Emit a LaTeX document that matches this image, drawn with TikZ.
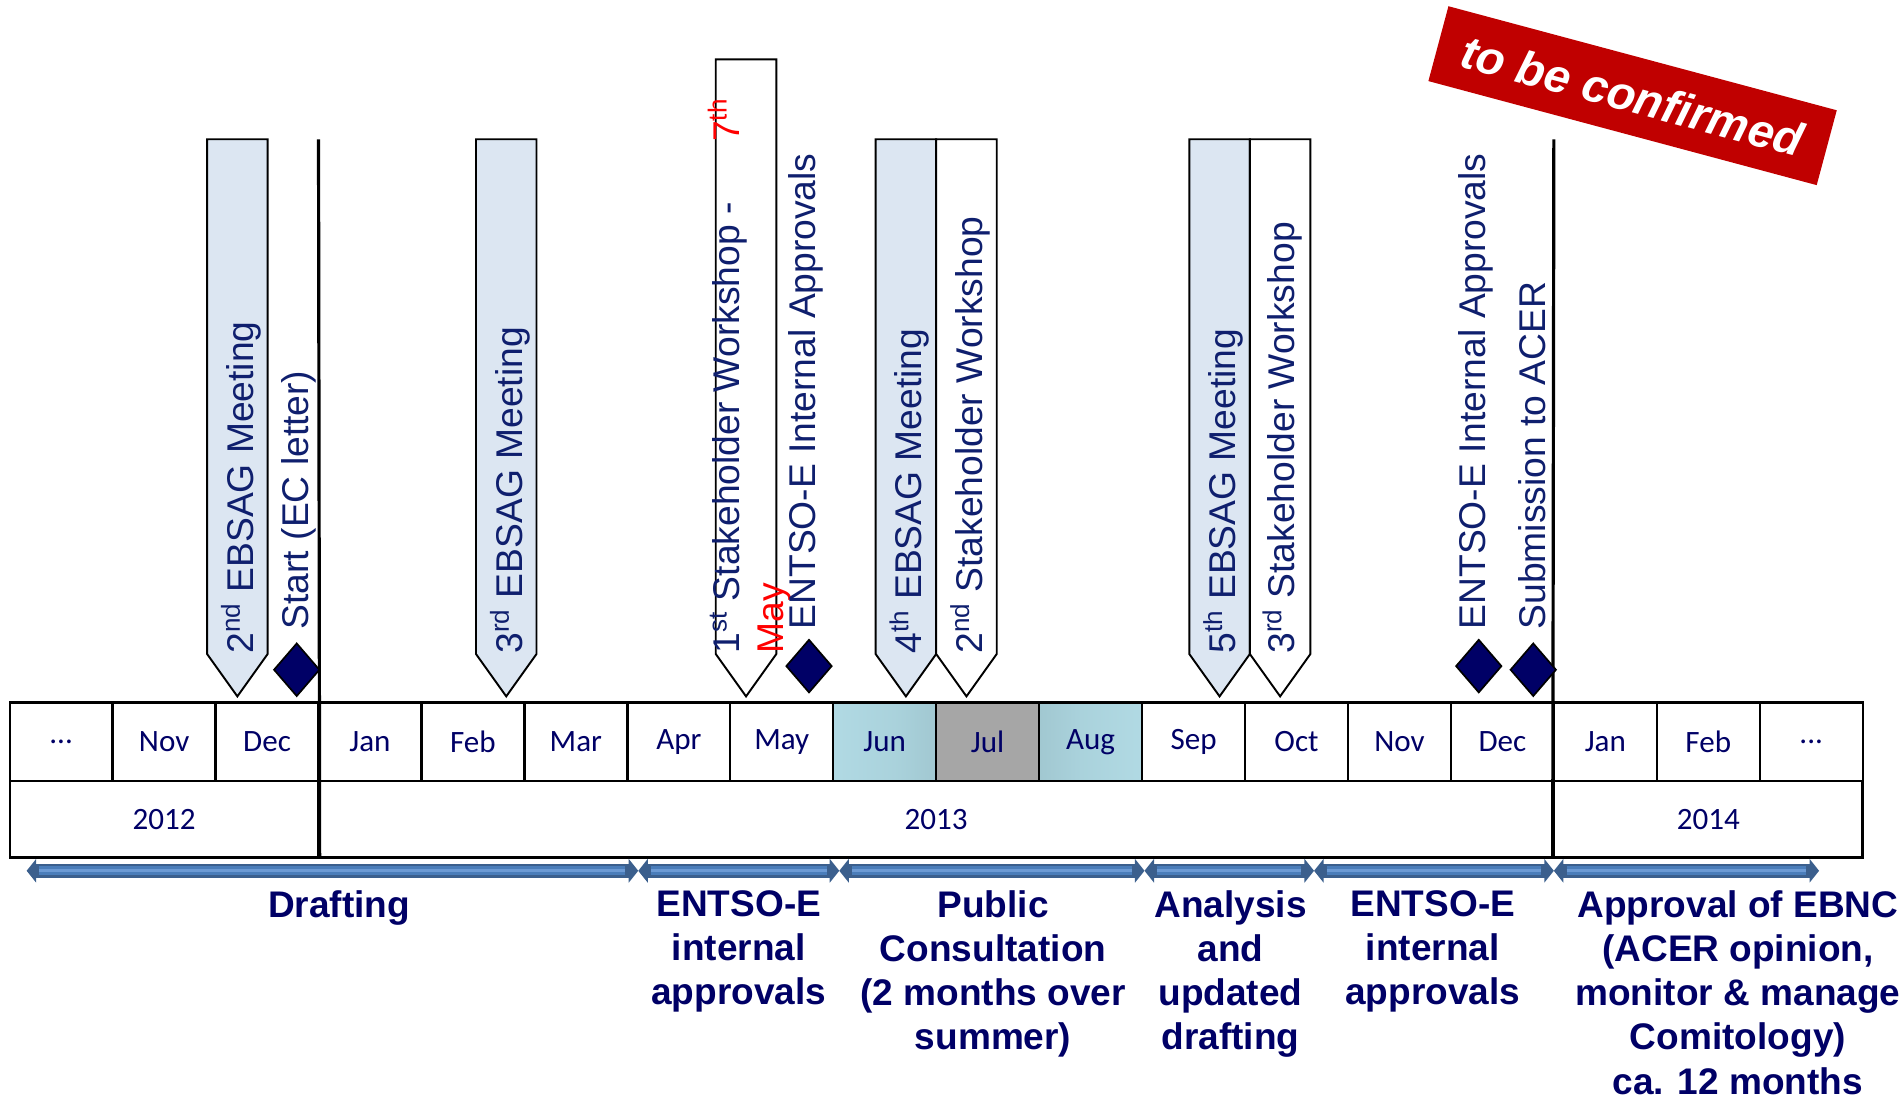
\documentclass[tikz,border=0pt]{standalone}
\usepackage{fontspec}
\setmainfont{Liberation Sans}
\newfontfamily\calibrifont{Carlito}
\usepackage{xcolor}
\usepackage{tikz}
\usetikzlibrary{shapes.geometric,arrows.meta}

\definecolor{navytext}{HTML}{000066}
\definecolor{labelblue}{HTML}{0F1F6E}
\definecolor{meetblue}{HTML}{DCE6F2}
\definecolor{junlight}{HTML}{B7E0EA}
\definecolor{junmid}{HTML}{9EC4CD}
\definecolor{jundark}{HTML}{5E838B}
\definecolor{julgrey}{HTML}{A6A6A6}
\definecolor{phaseedge}{HTML}{3B5F8D}
\definecolor{phasefill}{HTML}{4A7DBA}
\definecolor{phaselight}{HTML}{6C9AD4}
\definecolor{stampred}{HTML}{C00000}

\pgfdeclarehorizontalshading{junshade}{100bp}{color(0bp)=(junlight); color(55bp)=(junlight!85!jundark); color(82bp)=(junmid); color(100bp)=(jundark)}
\pgfdeclarehorizontalshading{augshade}{100bp}{color(0bp)=(jundark); color(18bp)=(junmid); color(45bp)=(junlight!85!jundark); color(100bp)=(junlight)}

\begin{document}
\begin{tikzpicture}[
  x=0.02cm, y=-0.02cm,
  monthcell/.style={draw, line width=1.1pt, minimum width=1.7cm, minimum height=1.3cm, inner sep=0,
    text=navytext, font=\calibrifont\fontsize{14.6}{16}\selectfont},
  yearcell/.style={monthcell, minimum height=1.26cm},
  msdiamond/.style={diamond, draw=black, line width=0.8pt, fill=navytext, inner sep=0,
    minimum width=0.76cm, minimum height=0.88cm},
  pentabox/.style={draw=black, line width=0.9pt},
  vlabel/.style={rotate=90, anchor=west, inner sep=0, text=labelblue, font=\fontsize{17.5}{20.5}\selectfont},
  phasearrow/.style={draw=phaseedge, line width=6.8pt, {Triangle[width=11pt,length=4.5pt]}-{Triangle[width=11pt,length=4.5pt]}},
  phasebody/.style={draw=phasefill, line width=4.2pt, shorten <=6pt, shorten >=6pt},
  phasehi/.style={draw=phaselight, line width=1.4pt, shorten <=6pt, shorten >=6pt},
  phasetext/.style={anchor=north, inner sep=0, align=center, text=navytext,
    font=\bfseries\fontsize{17.4}{20.75}\selectfont},
  tbcstamp/.style={fill=stampred, text=white, rotate=-15, minimum width=6.64cm, minimum height=1.28cm,
    inner sep=0, font=\bfseries\itshape\fontsize{22}{24}\selectfont}
]
\useasboundingbox (0,0) rectangle (1568,909);

% months
\node[monthcell] (m0) at (50.5,612.5) {...};
\node[monthcell] (m1) at (135.5,612.5) {Nov};
\node[monthcell] (m2) at (220.5,612.5) {Dec};
\node[monthcell] (m3) at (305.5,612.5) {Jan};
\node[monthcell] (m4) at (390.5,612.5) {Feb};
\node[monthcell] (m5) at (475.5,612.5) {Mar};
\node[monthcell] (m6) at (560.5,612.5) {Apr};
\node[monthcell] (m7) at (645.5,612.5) {May};
\node[monthcell, shading=junshade] (m8) at (730.5,612.5) {Jun};
\node[monthcell, fill=julgrey] (m9) at (815.5,612.5) {Jul};
\node[monthcell, shading=augshade] (m10) at (900.5,612.5) {Aug};
\node[monthcell] (m11) at (985.5,612.5) {Sep};
\node[monthcell] (m12) at (1070.5,612.5) {Oct};
\node[monthcell] (m13) at (1155.5,612.5) {Nov};
\node[monthcell] (m14) at (1240.5,612.5) {Dec};
\node[monthcell] (m15) at (1325.5,612.5) {Jan};
\node[monthcell] (m16) at (1410.5,612.5) {Feb};
\node[monthcell] (m17) at (1495.5,612.5) {...};

% years
\node[yearcell, minimum width=5.1cm] (y12) at (135.5,676.5) {2012};
\node[yearcell, minimum width=20.4cm] (y13) at (773,676.5) {2013};
\node[yearcell, minimum width=5.1cm] (y14) at (1410.5,676.5) {2014};

% year boundaries
\coordinate (ytop1) at (263,115);
\coordinate (ytop2) at (1283,115);
\draw[line width=1.5pt] (ytop1) -- (y12.south east);
\draw[line width=1.5pt] (ytop2) -- (y14.south west);

% meetings and workshops
\draw[pentabox, fill=meetblue] (171,115) -- (221,115) -- (221,540) -- (196,575) -- (171,540) -- cycle;
\draw[pentabox, fill=meetblue] (393,115) -- (443,115) -- (443,540) -- (418,575) -- (393,540) -- cycle;
\draw[pentabox, fill=white] (591,49) -- (641,49) -- (641,540) -- (616,575) -- (591,540) -- cycle;
\draw[pentabox, fill=meetblue] (723,115) -- (773,115) -- (773,540) -- (748,575) -- (723,540) -- cycle;
\draw[pentabox, fill=white] (773,115) -- (823,115) -- (823,540) -- (798,575) -- (773,540) -- cycle;
\draw[pentabox, fill=meetblue] (982,115) -- (1032,115) -- (1032,540) -- (1007,575) -- (982,540) -- cycle;
\draw[pentabox, fill=white] (1032,115) -- (1082,115) -- (1082,540) -- (1057,575) -- (1032,540) -- cycle;

\node[vlabel] (ebsag2) at (199,540) {2\textsuperscript{nd} EBSAG Meeting};
\node[vlabel] (ebsag3) at (421,540) {3\textsuperscript{rd} EBSAG Meeting};
\node[vlabel, anchor=north west, align=left] (shw1) at (584,540)
  {1\textsuperscript{st} Stakeholder Workshop -\hspace{1cm}\textcolor{red}{7\textsuperscript{th}}\\\textcolor{red}{May}};
\node[vlabel] (ebsag4) at (751,540) {4\textsuperscript{th} EBSAG Meeting};
\node[vlabel] (shw2) at (801,540) {2\textsuperscript{nd} Stakeholder Workshop};
\node[vlabel] (ebsag5) at (1010,540) {5\textsuperscript{th} EBSAG Meeting};
\node[vlabel] (shw3) at (1059,540) {3\textsuperscript{rd} Stakeholder Workshop};

% milestones
\node[msdiamond] (start) at (245,553) {};
\node[msdiamond] (appr1) at (668,550) {};
\node[msdiamond] (appr2) at (1221,550) {};
\node[msdiamond] (acer) at (1266,553) {};

\node[vlabel] (startlbl) at (247,520) {Start (EC letter)};
\node[vlabel] (appr1lbl) at (665,520) {ENTSO-E Internal Approvals};
\node[vlabel] (appr2lbl) at (1219,520) {ENTSO-E Internal Approvals};
\node[vlabel] (acerlbl) at (1265,520) {Submission to ACER};

% phases
\coordinate (p0) at (22,719);
\coordinate (p1) at (527,719);
\coordinate (p2) at (693,719);
\coordinate (p3) at (945,719);
\coordinate (p4) at (1085,719);
\coordinate (p5) at (1283,719);
\coordinate (p6) at (1502,719);
\draw[phasearrow] (p0) -- (p1);
\draw[phasearrow] (p1) -- (p2);
\draw[phasearrow] (p2) -- (p3);
\draw[phasearrow] (p3) -- (p4);
\draw[phasearrow] (p4) -- (p5);
\draw[phasearrow] (p5) -- (p6);
\draw[phasebody] (p0) -- (p1);
\draw[phasebody] (p1) -- (p2);
\draw[phasebody] (p2) -- (p3);
\draw[phasebody] (p3) -- (p4);
\draw[phasebody] (p4) -- (p5);
\draw[phasebody] (p5) -- (p6);
\draw[phasehi] (p0) -- (p1);
\draw[phasehi] (p1) -- (p2);
\draw[phasehi] (p2) -- (p3);
\draw[phasehi] (p3) -- (p4);
\draw[phasehi] (p4) -- (p5);
\draw[phasehi] (p5) -- (p6);

\node[phasetext] (drafting) at (280,735) {Drafting};
\node[phasetext] (intappr1) at (610,735) {ENTSO-E\\internal\\approvals};
\node[phasetext] (pubcons) at (820,735) {Public\\Consultation\\(2 months over\\summer)};
\node[phasetext] (analysis) at (1016,735) {Analysis\\and\\updated\\drafting};
\node[phasetext] (intappr2) at (1183,735) {ENTSO-E\\internal\\approvals};
\node[phasetext] (approval) at (1435,735) {Approval of EBNC\\(ACER opinion,\\monitor \& manage\\Comitology)\\ca. 12 months};

% stamp
\node[tbcstamp] (tbc) at (1348,79) {to be confirmed};
\end{tikzpicture}
\end{document}
